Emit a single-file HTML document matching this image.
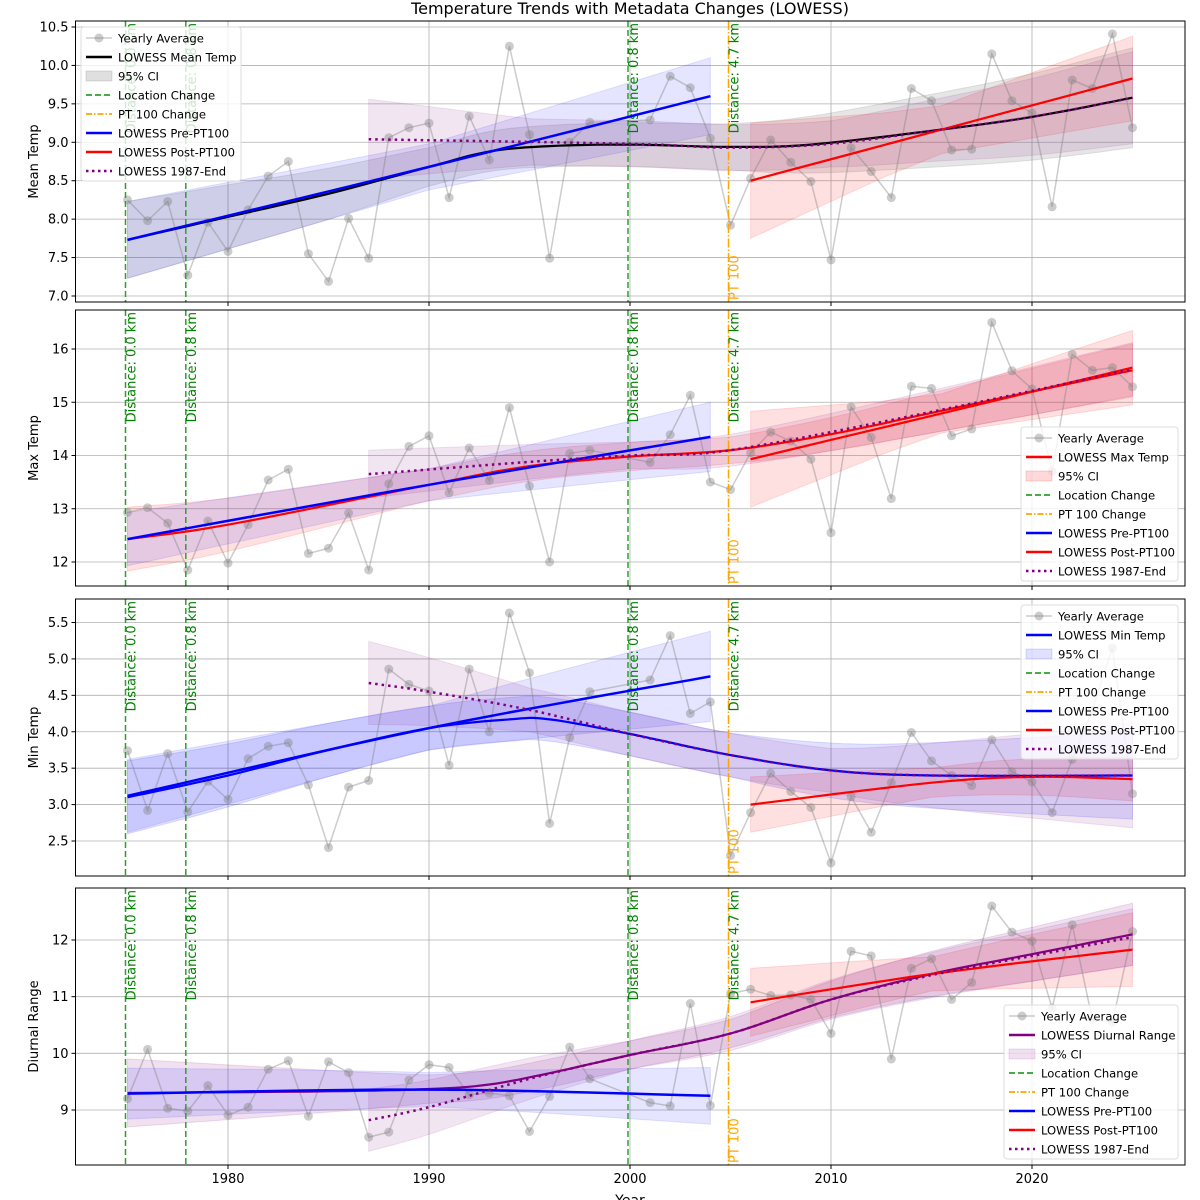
<!DOCTYPE html>
<html><head><meta charset="utf-8"><style>
html,body{margin:0;padding:0;background:#fff;}
svg{display:block;font-family:"DejaVu Sans","Liberation Sans",sans-serif;}
</style></head><body>
<svg id="s" width="1200" height="1200" xmlns="http://www.w3.org/2000/svg"></svg>
<script>
const S=document.getElementById('s');
let out='';
const X0=75.5,X1=1185;
const xy=y=>228+(y-1980)*20.1;
const yrs=[1975,1976,1977,1978,1979,1980,1981,1982,1983,1984,1985,1986,1987,1988,1989,1990,1991,1992,1993,1994,1995,1996,1997,1998,2001,2002,2003,2004,2005,2006,2007,2008,2009,2010,2011,2012,2013,2014,2015,2016,2017,2018,2019,2020,2021,2022,2023,2024,2025];
function interp(pts,x){for(let i=0;i<pts.length-1;i++){if(x<=pts[i+1][0]){const t=(x-pts[i][0])/(pts[i+1][0]-pts[i][0]);return pts[i][1]+t*(pts[i+1][1]-pts[i][1]);}}return pts[pts.length-1][1];}
function smooth(pts){
  const r=[];
  for(let i=0;i<pts.length-1;i++){const p0=pts[Math.max(0,i-1)],p1=pts[i],p2=pts[i+1],p3=pts[Math.min(pts.length-1,i+2)];
    for(let k=0;k<8;k++){const t=k/8,t2=t*t,t3=t2*t;
      const f=(q0,q1,q2,q3)=>0.5*(2*q1+(-q0+q2)*t+(2*q0-5*q1+4*q2-q3)*t2+(-q0+3*q1-3*q2+q3)*t3);
      r.push([f(p0[0],p1[0],p2[0],p3[0]),f(p0[1],p1[1],p2[1],p3[1])]);}}
  r.push(pts[pts.length-1]);return r;}
const panels=[
 {top:21,bot:302,y0:10.5,p0:27,y1:7.0,p1:296,ticks:[7.0,7.5,8.0,8.5,9.0,9.5,10.0,10.5],fmt:1,label:'Mean Temp',
  data:[8.25,7.98,8.23,7.27,7.96,7.58,8.12,8.56,8.75,7.55,7.19,8.01,7.49,9.06,9.19,9.25,8.28,9.34,8.77,10.25,9.1,7.49,9.0,9.26,9.29,9.86,9.71,9.05,7.92,8.53,9.03,8.74,8.49,7.47,8.93,8.62,8.28,9.7,9.54,8.9,8.91,10.15,9.54,9.38,8.16,9.81,9.7,10.41,9.19],
  main:{c:'#000',fill:'#808080',fa:0.2,pts:[[1975,7.73],[1980,8.03],[1985,8.33],[1990,8.68],[1993,8.88],[1996,8.95],[2000,8.97],[2005,8.94],[2009,8.97],[2015,9.15],[2020,9.33],[2025,9.58]],w:[[1975,0.5],[1990,0.25],[2005,0.3],[2025,0.65]]},
  pre:{pts:[[1975,7.73],[1990,8.68],[2004,9.6]],w:[[1975,0.5],[1990,0.3],[2004,0.5]]},
  post:{pts:[[2006,8.5],[2025,9.83]],w:[[2006,0.75],[2015,0.3],[2025,0.55]]},
  p87:{pts:[[1987,9.04],[2000,8.98],[2005,8.93],[2010,8.98],[2015,9.15],[2020,9.33],[2025,9.58]],w:[[1987,0.52],[1995,0.3],[2010,0.3],[2025,0.6]]},
  legend:{x:81,y:27,w:160,main:'LOWESS Mean Temp',mc:'#000',ci:'#808080',cia:0.25}},
 {top:310,bot:586,y0:16,p0:349,y1:12,p1:562,ticks:[12,13,14,15,16],fmt:0,label:'Max Temp',
  data:[12.93,13.02,12.73,11.85,12.77,11.98,12.7,13.54,13.74,12.16,12.26,12.92,11.85,13.47,14.17,14.37,13.3,14.14,13.53,14.9,13.43,12.0,14.04,14.1,13.87,14.39,15.13,13.5,13.36,14.05,14.44,14.27,13.93,12.55,14.91,14.34,13.19,15.3,15.26,14.37,14.5,16.5,15.59,15.25,13.7,15.9,15.6,15.65,15.29],
  main:{c:'#f00',fill:'#ff0000',fa:0.12,pts:[[1975,12.43],[1980,12.7],[1990,13.45],[1995,13.8],[2000,13.98],[2005,14.1],[2010,14.4],[2015,14.8],[2020,15.2],[2025,15.6]],w:[[1975,0.6],[1990,0.3],[2005,0.25],[2025,0.5]]},
  pre:{pts:[[1975,12.43],[1990,13.45],[2004,14.35]],w:[[1975,0.5],[1990,0.3],[2004,0.65]]},
  post:{pts:[[2006,13.93],[2025,15.65]],w:[[2006,0.9],[2015,0.35],[2025,0.7]]},
  p87:{pts:[[1987,13.65],[1995,13.88],[2000,14.0],[2005,14.1],[2015,14.82],[2025,15.62]],w:[[1987,0.45],[2000,0.25],[2025,0.5]]},
  legend:{x:1021,y:427,w:157,main:'LOWESS Max Temp',mc:'#f00',ci:'#ff0000',cia:0.15}},
 {top:599,bot:876,y0:5.5,p0:622.5,y1:2.5,p1:841,ticks:[2.5,3.0,3.5,4.0,4.5,5.0,5.5],fmt:1,label:'Min Temp',
  data:[3.74,2.92,3.70,2.9,3.32,3.07,3.63,3.8,3.85,3.27,2.41,3.24,3.33,4.86,4.65,4.56,3.54,4.86,4.0,5.63,4.81,2.74,3.92,4.55,4.71,5.32,4.25,4.41,2.3,2.89,3.43,3.18,2.96,2.2,3.11,2.62,3.3,3.99,3.6,3.4,3.26,3.89,3.45,3.31,2.89,3.62,4.3,5.15,3.15],
  main:{c:'#00f',fill:'#0000ff',fa:0.12,pts:[[1975,3.1],[1980,3.4],[1985,3.75],[1990,4.05],[1994,4.17],[1996,4.17],[2000,3.97],[2005,3.68],[2010,3.47],[2015,3.4],[2025,3.4]],w:[[1975,0.5],[1990,0.3],[2005,0.3],[2025,0.6]]},
  pre:{pts:[[1975,3.12],[1990,4.05],[2004,4.76]],w:[[1975,0.5],[1990,0.3],[2004,0.62]]},
  post:{pts:[[2006,3.0],[2015,3.3],[2020,3.38],[2025,3.35]],w:[[2006,0.38],[2015,0.2],[2025,0.3]]},
  p87:{pts:[[1987,4.67],[1990,4.55],[1995,4.3],[2000,3.97],[2005,3.68],[2010,3.47],[2015,3.4],[2025,3.4]],w:[[1987,0.57],[1995,0.3],[2010,0.3],[2025,0.72]]},
  legend:{x:1021,y:605,w:157,main:'LOWESS Min Temp',mc:'#00f',ci:'#0000ff',cia:0.12}},
 {top:888,bot:1165,y0:12,p0:940,y1:9,p1:1110,ticks:[9,10,11,12],fmt:0,label:'Diurnal Range',
  data:[9.2,10.07,9.03,8.98,9.43,8.91,9.05,9.72,9.87,8.89,9.85,9.66,8.52,8.61,9.53,9.8,9.75,9.27,9.3,9.25,8.62,9.24,10.11,9.55,9.13,9.07,10.88,9.08,11.05,11.13,11.02,11.03,10.95,10.35,11.8,11.72,9.9,11.5,11.67,10.95,11.25,12.6,12.14,11.98,10.8,12.27,10.6,10.55,12.15],
  main:{c:'#800080',fill:'#800080',fa:0.12,pts:[[1975,9.3],[1985,9.33],[1990,9.37],[1993,9.45],[1996,9.65],[2000,9.97],[2005,10.35],[2010,10.95],[2015,11.4],[2020,11.75],[2025,12.1]],w:[[1975,0.6],[1990,0.25],[2005,0.25],[2025,0.55]]},
  pre:{pts:[[1975,9.29],[1990,9.36],[2004,9.25]],w:[[1975,0.45],[1990,0.3],[2004,0.5]]},
  post:{pts:[[2006,10.9],[2015,11.4],[2025,11.83]],w:[[2006,0.6],[2015,0.3],[2025,0.65]]},
  p87:{pts:[[1987,8.82],[1990,9.05],[1995,9.55],[2000,9.97],[2005,10.35],[2010,10.95],[2015,11.38],[2020,11.72],[2025,12.05]],w:[[1987,0.55],[2000,0.25],[2025,0.5]]},
  legend:{x:1004,y:1005,w:174,main:'LOWESS Diurnal Range',mc:'#800080',ci:'#800080',cia:0.12}}
];
function band(P,ys,o,fill,fa){
  const sm=smooth(o.pts);
  const up=sm.map(p=>[xy(p[0]),ys(p[1]+interp(o.w,p[0]))]);
  const lo=sm.map(p=>[xy(p[0]),ys(p[1]-interp(o.w,p[0]))]).reverse();
  return `<polygon points="${up.concat(lo).map(p=>p[0].toFixed(1)+','+p[1].toFixed(1)).join(' ')}" fill="${fill}" fill-opacity="${fa}" stroke="${fill}" stroke-opacity="${fa}"/>`;
}
function line(ys,o,c,w,dash){const sm=smooth(o.pts);return `<polyline points="${sm.map(p=>xy(p[0]).toFixed(1)+','+ys(p[1]).toFixed(1)).join(' ')}" fill="none" stroke="${c}" stroke-width="${w}" ${dash?'stroke-dasharray="'+dash+'"':''}/>`;}
out+=`<text x="630" y="14" font-size="16" text-anchor="middle">Temperature Trends with Metadata Changes (LOWESS)</text>`;
panels.forEach((P,pi)=>{
  const ys=v=>P.p0+(v-P.y0)*(P.p1-P.p0)/(P.y1-P.y0);
  out+=`<defs><clipPath id="c${pi}"><rect x="${X0}" y="${P.top}" width="${X1-X0}" height="${P.bot-P.top}"/></clipPath></defs>`;
  out+=`<g clip-path="url(#c${pi})">`;
  [1980,1990,2000,2010,2020].forEach(y=>out+=`<line x1="${xy(y)}" x2="${xy(y)}" y1="${P.top}" y2="${P.bot}" stroke="#b0b0b0" stroke-width="0.8"/>`);
  P.ticks.forEach(t=>out+=`<line x1="${X0}" x2="${X1}" y1="${ys(t)}" y2="${ys(t)}" stroke="#b0b0b0" stroke-width="0.8"/>`);
  out+=band(P,ys,P.main,P.main.fill,P.main.fa);
  out+=band(P,ys,P.pre,'#0000ff',0.1);
  out+=band(P,ys,P.post,'#ff0000',0.12);
  out+=band(P,ys,P.p87,'#800080',0.1);
  const pts=yrs.map((y,i)=>[xy(y),ys(P.data[i])]);
  out+=`<polyline points="${pts.map(p=>p[0].toFixed(1)+','+p[1].toFixed(1)).join(' ')}" fill="none" stroke="#808080" stroke-opacity="0.4" stroke-width="1.5"/>`;
  pts.forEach(p=>out+=`<circle cx="${p[0].toFixed(1)}" cy="${p[1].toFixed(1)}" r="4.5" fill="#808080" fill-opacity="0.4"/>`);
  [1975,1978,2000].forEach(y=>{const x=xy(y)-2;out+=`<line x1="${x}" x2="${x}" y1="${P.top}" y2="${P.bot}" stroke="#2ca02c" stroke-width="1.5" stroke-dasharray="6,3"/>`;
    out+=`<text transform="translate(${x+10},${P.top+2}) rotate(-90)" font-size="13" fill="#008000" text-anchor="end">Distance: ${y==1975?'0.0':'0.8'} km</text>`;});
  {const x=xy(2005)-2;out+=`<line x1="${x}" x2="${x}" y1="${P.top}" y2="${P.bot}" stroke="#ffa500" stroke-width="1.5" stroke-dasharray="9,2,1.5,2"/>`;
   out+=`<text transform="translate(${x+10},${P.top+2}) rotate(-90)" font-size="13" fill="#008000" text-anchor="end">Distance: 4.7 km</text>`;
   out+=`<text transform="translate(${x+10},${P.bot-2}) rotate(-90)" font-size="13" fill="#ffa500">PT 100</text>`;}
  out+=line(ys,P.main,P.main.c,2.2);
  out+=line(ys,P.pre,'#00f',2.5);
  out+=line(ys,P.post,'#f00',2.2);
  out+=line(ys,P.p87,'#800080',2.5,'2.5,4');
  out+=`</g>`;
  out+=`<rect x="${X0}" y="${P.top}" width="${X1-X0}" height="${P.bot-P.top}" fill="none" stroke="#000" stroke-width="1"/>`;
  P.ticks.forEach(t=>{const y=ys(t);out+=`<line x1="${X0-4}" x2="${X0}" y1="${y}" y2="${y}" stroke="#000"/><text x="${X0-7}" y="${y+4.5}" font-size="13" text-anchor="end">${t.toFixed(P.fmt)}</text>`;});
  [1980,1990,2000,2010,2020].forEach(y=>out+=`<line x1="${xy(y)}" x2="${xy(y)}" y1="${P.bot}" y2="${P.bot+4}" stroke="#000"/>`);
  const mid=(P.top+P.bot)/2;
  out+=`<text transform="translate(38,${mid}) rotate(-90)" font-size="13" text-anchor="middle">${P.label}</text>`;
  const L=P.legend;const lh=19;
  out+=`<rect x="${L.x}" y="${L.y}" width="${L.w}" height="${lh*8+2}" rx="3" fill="#fff" fill-opacity="0.8" stroke="#ddd"/>`;
  const items=[['avg','Yearly Average'],['l',L.main,L.mc],['ci','95% CI'],['d','Location Change','#2ca02c','6,3'],['d','PT 100 Change','#ffa500','6,2,1.5,2'],['l','LOWESS Pre-PT100','#00f'],['l','LOWESS Post-PT100','#f00'],['d','LOWESS 1987-End','#800080','2.5,3.5']];
  items.forEach((it,i)=>{const cy=L.y+11+i*lh;const lx=L.x+5;
    if(it[0]=='avg'){out+=`<line x1="${lx}" x2="${lx+26}" y1="${cy}" y2="${cy}" stroke="#808080" stroke-opacity="0.4" stroke-width="1.5"/><circle cx="${lx+13}" cy="${cy}" r="4.5" fill="#808080" fill-opacity="0.4"/>`;}
    else if(it[0]=='l'){out+=`<line x1="${lx}" x2="${lx+26}" y1="${cy}" y2="${cy}" stroke="${it[2]}" stroke-width="2.5"/>`;}
    else if(it[0]=='ci'){out+=`<rect x="${lx}" y="${cy-5}" width="26" height="10" fill="${L.ci}" fill-opacity="${L.cia}" stroke="${L.ci}" stroke-opacity="${L.cia}"/>`;}
    else {out+=`<line x1="${lx}" x2="${lx+26}" y1="${cy}" y2="${cy}" stroke="${it[2]}" stroke-width="${it[2]=='#800080'?2.5:1.8}" stroke-dasharray="${it[3]}"/>`;}
    out+=`<text x="${L.x+37}" y="${cy+4.5}" font-size="11.6">${it[1]}</text>`;});
});
const B=panels[3].bot;
[1980,1990,2000,2010,2020].forEach(y=>out+=`<text x="${xy(y)}" y="${B+18}" font-size="13" text-anchor="middle">${y}</text>`);
out+=`<text x="630" y="1205" font-size="14" text-anchor="middle">Year</text>`;
S.innerHTML=out;
</script>
</body></html>
